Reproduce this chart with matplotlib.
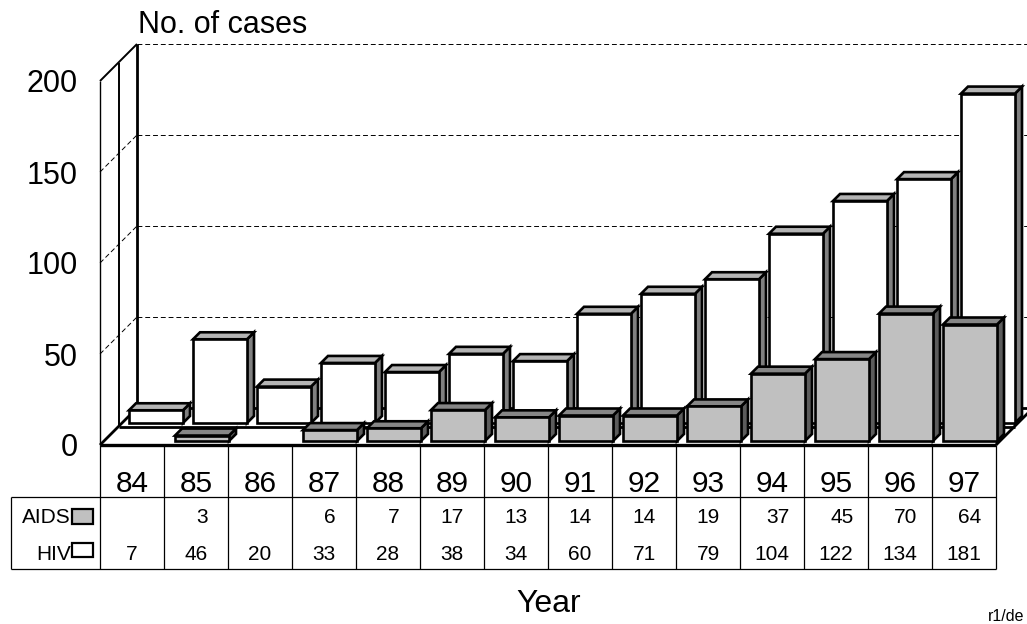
import numpy as np
import matplotlib.pyplot as plt
from matplotlib.patches import Polygon, Rectangle

plt.rcParams['font.family'] = ['Liberation Sans', 'DejaVu Sans']

years = ["84", "85", "86", "87", "88", "89", "90", "91", "92", "93", "94", "95", "96", "97"]
aids = [0, 3, 0, 6, 7, 17, 13, 14, 14, 19, 37, 45, 70, 64]
hiv = [7, 46, 20, 33, 28, 38, 34, 60, 71, 79, 104, 122, 134, 181]
aids_txt = ["", "3", "", "6", "7", "17", "13", "14", "14", "19", "37", "45", "70", "64"]
hiv_txt = [str(v) for v in hiv]
yticks = [0, 50, 100, 150, 200]
grid_vals = [50, 100, 150, 200]

# pixel layout (figure 1027x624 px)
W, H = 1027, 624
PX_CAT = 64.0      # px per year column
PX_VAL = 1.82      # px per case
X0, Y0 = 100, 445  # front-left corner of the floor (px from left/top)
DEPTH = 37         # oblique depth of the whole plot box
MID = 18.5         # series boundary line
BAR_W, BAR_D, GAP = 54, 7, 7
ROW_DEPTH = {"aids": 4, "hiv": 22}

fig = plt.figure(figsize=(W / 100, H / 100), dpi=100)
ax = fig.add_axes([0, 0, 1, 1])
ax.set_xlim(-X0 / PX_CAT, (W - X0) / PX_CAT)
ax.set_ylim(-(H - Y0) / PX_VAL, Y0 / PX_VAL)
ax.axis("off")

n = len(years)


def dx(px):
    return px / PX_CAT


def dy(px):
    return px / PX_VAL


def ypix(py):
    # table rows etc are laid out in pixels from the top
    return (Y0 - py) / PX_VAL


def line(xs, ys, **kw):
    kw.setdefault("color", "black")
    kw.setdefault("lw", 1.4)
    ax.plot(xs, ys, solid_capstyle="butt", **kw)


# walls and floor
top = yticks[-1]
ax.add_patch(Polygon([(0, 0), (0, top), (dx(DEPTH), top + dy(DEPTH)), (dx(DEPTH), dy(DEPTH))],
                     closed=True, fc="white", ec="none", zorder=1))
ax.add_patch(Polygon([(0, 0), (n, 0), (n + dx(DEPTH), dy(DEPTH)), (dx(DEPTH), dy(DEPTH))],
                     closed=True, fc="white", ec="none", zorder=1))

for v in grid_vals:
    if v < top:
        line([0, dx(DEPTH)], [v, v + dy(DEPTH)], lw=0.7, ls=(0, (5, 3)), zorder=2)
    line([dx(DEPTH), n + dx(DEPTH)], [v + dy(DEPTH)] * 2, lw=0.7, ls=(0, (5, 3)), zorder=2)

line([0, 0], [0, top], lw=1.0, zorder=3)
line([dx(MID)] * 2, [dy(MID), top + dy(MID)], lw=1.4, zorder=3)
line([dx(DEPTH)] * 2, [dy(DEPTH), top + dy(DEPTH)], lw=2.0, zorder=3)
line([0, dx(DEPTH)], [top, top + dy(DEPTH)], lw=1.4, zorder=3)
line([0, dx(DEPTH)], [0, dy(DEPTH)], lw=2.0, zorder=3)
line([n, n + dx(DEPTH)], [0, dy(DEPTH)], lw=2.0, zorder=3)
line([dx(MID), n + dx(MID)], [dy(MID)] * 2, lw=2.0, zorder=3)
line([dx(DEPTH), n + dx(DEPTH)], [dy(DEPTH)] * 2, lw=2.0, zorder=3)
line([0, n], [0, 0], lw=2.4, zorder=3)


def bar3d(i, val, depth, front, topc, side, z):
    left = i + dx(depth + GAP)
    right = left + dx(BAR_W)
    base = dy(depth)
    t = base + val
    ox, oy = dx(BAR_D), dy(BAR_D)
    kw = dict(closed=True, ec="black", lw=1.9, joinstyle="miter", zorder=z)
    ax.add_patch(Polygon([(right, base), (right + ox, base + oy), (right + ox, t + oy), (right, t)], fc=side, **kw))
    ax.add_patch(Polygon([(left, t), (right, t), (right + ox, t + oy), (left + ox, t + oy)], fc=topc, **kw))
    ax.add_patch(Polygon([(left, base), (right, base), (right, t), (left, t)], fc=front, **kw))


for i, v in enumerate(hiv):
    bar3d(i, v, ROW_DEPTH["hiv"], "white", "#b4b4b4", "#808080", 4)
for i, v in enumerate(aids):
    if v > 0:
        bar3d(i, v, ROW_DEPTH["aids"], "#c0c0c0", "#868686", "#5c5c5c", 5)

# value axis labels
for v in yticks:
    ax.text(dx(-22), v - dy(11.5), str(v), ha="right", va="baseline", fontsize=22)
ax.text(dx(DEPTH + 1), ypix(33), "No. of cases", ha="left", va="baseline", fontsize=22)

# data table
row_top, row_bot = ypix(497), ypix(569)
tab_left = dx(11 - X0)
for i in range(n + 1):
    line([i, i], [0, row_bot], lw=0.9, zorder=3)
line([tab_left, n], [row_top] * 2, lw=0.9)
line([tab_left, n], [row_bot] * 2, lw=0.9)
line([tab_left] * 2, [row_top, row_bot], lw=0.9)

fs_tab = 15
digit_w = 0.556 * fs_tab * 100 / 72  # px width of one digit
for i in range(n):
    c = i + 0.5
    ax.text(c, ypix(492), years[i], ha="center", va="baseline", fontsize=21.5)
    ax.text(c, ypix(560), hiv_txt[i], ha="center", va="baseline", fontsize=fs_tab)
    if aids_txt[i]:
        ax.text(c + dx(len(hiv_txt[i]) * digit_w / 2), ypix(523), aids_txt[i],
                ha="right", va="baseline", fontsize=fs_tab)

ax.text(dx(71 - X0), ypix(523), "AIDS", ha="right", va="baseline", fontsize=fs_tab)
ax.text(dx(71 - X0), ypix(560), "HIV", ha="right", va="baseline", fontsize=fs_tab)
ax.add_patch(Rectangle((dx(72 - X0), ypix(524)), dx(21), dy(15), fc="#c0c0c0", ec="black", lw=1.6))
ax.add_patch(Rectangle((dx(72 - X0), ypix(557)), dx(21), dy(14), fc="white", ec="black", lw=1.6))

ax.text(dx(549 - X0), ypix(612), "Year", ha="center", va="baseline", fontsize=23)
ax.text(dx(988 - X0), ypix(621), "r1/de", ha="left", va="baseline", fontsize=11.5)

fig.savefig("out.png", dpi=100)
